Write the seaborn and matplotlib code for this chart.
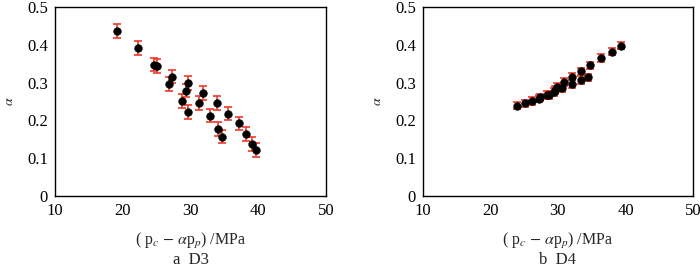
import numpy as np
import pandas as pd
import seaborn as sns
import matplotlib.pyplot as plt

# D3 data
d3_x = [19.15, 22.25, 24.6, 25.0, 26.9, 27.2, 28.8, 29.3, 29.7, 29.6, 31.2,
        31.8, 32.9, 33.9, 34.1, 34.7, 35.6, 37.1, 38.2, 39.1, 39.7]
d3_alpha = [0.437, 0.391, 0.348, 0.344, 0.297, 0.316, 0.251, 0.279, 0.299, 0.222, 0.246,
            0.272, 0.213, 0.246, 0.178, 0.157, 0.218, 0.192, 0.164, 0.138, 0.122]
d3_err = 0.018

# D4 data
d4_x = [23.9, 25.1, 26.1, 27.2, 27.4, 28.4, 28.7, 29.4, 29.6, 29.9, 30.6,
        30.9, 32.1, 32.1, 33.4, 33.4, 34.4, 34.8, 36.4, 38.0, 39.3]
d4_alpha = [0.239, 0.245, 0.252, 0.258, 0.261, 0.267, 0.267, 0.275, 0.281, 0.288, 0.286,
            0.302, 0.296, 0.316, 0.307, 0.330, 0.314, 0.346, 0.365, 0.382, 0.398]
d4_err = 0.01

xticks = [10, 20, 30, 40, 50]
yticks = [0, 0.1, 0.2, 0.3, 0.4, 0.5]
ytick_labels = ["0", "0.1", "0.2", "0.3", "0.4", "0.5"]
captions = ["a  D3", "b  D4"]

sns.set_style("white")
plt.rcParams['font.family'] = ['Liberation Serif', 'DejaVu Serif']
plt.rcParams['mathtext.fontset'] = 'stix'

fig = plt.figure(figsize=(7, 2.73), dpi=100)
ax1 = fig.add_axes([0.0786, 0.282, 0.387, 0.692])
ax2 = fig.add_axes([0.604, 0.282, 0.386, 0.692])

panels = [(ax1, d3_x, d3_alpha, d3_err), (ax2, d4_x, d4_alpha, d4_err)]
for (ax, xs, ys, err), cap in zip(panels, captions):
    df = pd.DataFrame({"x": xs, "alpha": ys})
    ax.errorbar(df["x"], df["alpha"], yerr=err, fmt="none", ecolor="#f03a2a",
                elinewidth=1.2, capsize=2.8, capthick=1.2, zorder=2)
    sns.scatterplot(data=df, x="x", y="alpha", ax=ax, color="black", s=32,
                    edgecolor="black", linewidth=0.3, zorder=3)
    ax.set_xlim(10, 50)
    ax.set_ylim(0, 0.5)
    ax.set_xticks(xticks)
    ax.set_yticks(yticks)
    ax.set_yticklabels(ytick_labels)
    ax.tick_params(direction="in", length=3, width=0.8, labelsize=12, pad=5,
                   colors="black")
    for sp in ax.spines.values():
        sp.set_color("black")
        sp.set_linewidth(1.0)
    ax.set_xlabel(r"( p$_c$ $-$ $\alpha$p$_p$) /MPa", fontsize=11.5, labelpad=9)
    ax.set_ylabel(r"$\alpha$", fontsize=10, labelpad=8)
    ax.text(0.5, -0.34, cap, transform=ax.transAxes, ha="center", va="center",
            fontsize=12)

fig.savefig("out.png", dpi=100)
